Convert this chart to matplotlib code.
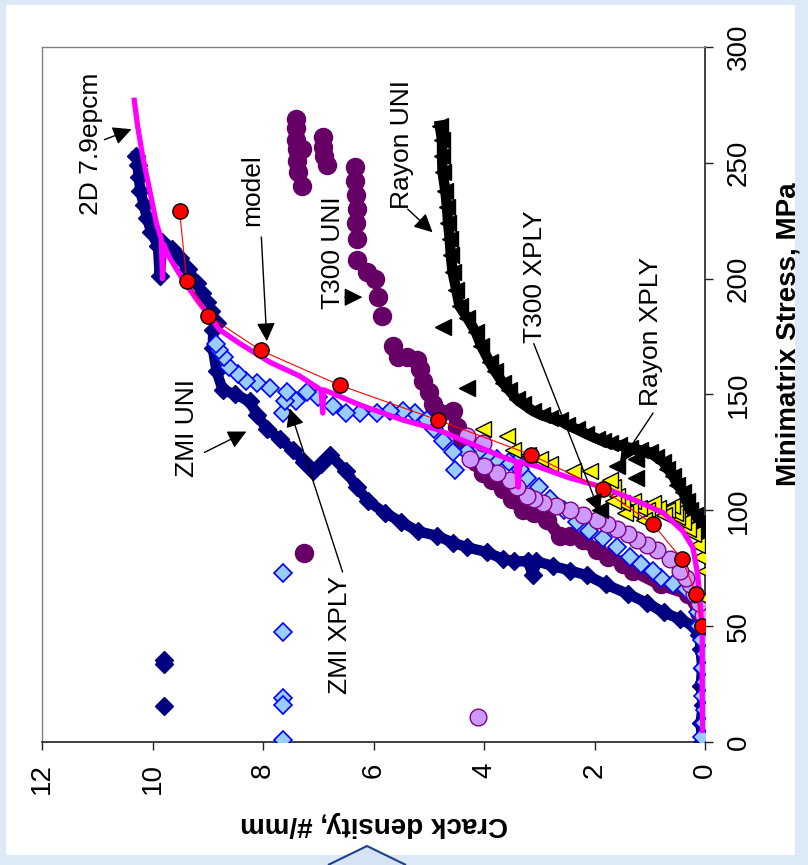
import numpy as np
import matplotlib
matplotlib.use("Agg")
import matplotlib.pyplot as plt
from matplotlib.patches import Rectangle, Polygon

plt.rcParams['font.family'] = ['Liberation Sans', 'DejaVu Sans']

# data as (crack density #/mm, stress MPa)
zmi_uni = [(0.05, 0), (0.08, 8), (0.04, 16), (0.08, 24), (0.05, 32), (0.08, 40), (0.1, 46),
           (0.2, 50), (0.45, 53), (0.75, 56), (1.05, 60), (1.4, 64), (1.8, 68), (2.14, 72),
           (2.45, 74), (2.75, 76), (3.05, 78), (3.12, 72), (3.2, 78), (3.45, 78), (3.66, 79),
           (3.95, 82), (4.3, 84), (4.56, 86), (4.85, 89), (5.2, 91), (5.5, 95), (5.8, 99),
           (6.1, 104), (6.3, 110), (6.5, 117), (6.79, 124), (6.95, 120), (7.1, 117), (7.25, 121),
           (7.46, 126), (7.7, 131), (7.93, 135), (8.1, 141), (8.24, 147), (8.5, 150), (8.73, 152),
           (8.84, 160), (8.91, 170), (8.9, 178), (8.84, 181), (8.95, 186), (9.02, 190), (9.1, 194),
           (9.2, 198), (9.35, 204), (9.51, 209), (9.65, 213), (9.82, 216), (9.87, 201), (9.9, 214),
           (10.02, 220), (10.1, 226), (10.16, 232), (10.22, 238), (10.25, 244), (10.27, 249),
           (10.29, 253)]
zmi_uni_stray = [(9.8, 35.5), (9.8, 33.5), (9.8, 15.5)]

zmi_xply = [(0.05, 2), (0.02, 8), (0.0, 14), (0.03, 20), (0.0, 26), (0.03, 32), (0.0, 38),
            (0.05, 44), (0.1, 50), (0.12, 56), (0.18, 62), (0.35, 66), (0.58, 68), (0.8, 71),
            (0.94, 74), (1.15, 77), (1.36, 80), (1.6, 84), (1.85, 88), (2.1, 91), (2.32, 95),
            (2.55, 100), (2.81, 105), (3.0, 110), (3.22, 114), (3.35, 118), (3.4, 121), (3.55, 121),
            (3.77, 122), (3.95, 124), (4.08, 126), (4.3, 125), (4.57, 125), (4.75, 130), (4.9, 135),
            (5.04, 139), (5.25, 142), (5.47, 143), (5.7, 143), (5.94, 142), (6.25, 142), (6.49, 142),
            (6.74, 145), (7.0, 149), (7.21, 151), (7.4, 147), (7.64, 142), (7.6, 147), (7.57, 151),
            (7.88, 153), (8.1, 155), (8.3, 156), (8.45, 159), (8.61, 162), (8.7, 166), (8.79, 169),
            (8.85, 172)]
zmi_xply_stray = [(4.53, 117.5), (7.64, 73), (7.64, 47.5), (7.64, 19), (7.64, 16), (7.64, 1)]

t300_uni = [(0.05, 50), (0.1, 56), (0.3, 64), (0.8, 68), (1.3, 74), (1.49, 77), (1.75, 80),
            (1.96, 83), (2.2, 87), (2.45, 89), (2.63, 89), (2.86, 96), (3.1, 99), (3.3, 100),
            (3.5, 105), (3.66, 109), (3.85, 113), (4.02, 116), (4.15, 121), (4.26, 126), (4.4, 131),
            (4.49, 136), (4.57, 143), (4.8, 142), (4.93, 146), (5.0, 151), (5.1, 156), (5.15, 161),
            (5.22, 165), (5.4, 166), (5.56, 166), (5.65, 171)]
t300_uni_upper = [(5.85, 184), (5.92, 192), (5.98, 200), (6.12, 203), (6.29, 208), (6.3, 217),
                  (6.32, 224), (6.3, 230), (6.32, 236), (6.34, 242), (6.34, 248), (7.41, 269),
                  (7.41, 265), (7.4, 260), (7.38, 256), (7.38, 251), (7.3, 256), (7.36, 246),
                  (7.3, 240), (6.92, 261), (6.92, 257), (6.9, 253), (6.85, 249), (7.25, 81.6)]

t300_xply = [(0.04, 50), (0.04, 55), (0.1, 60), (0.2, 64), (0.27, 68), (0.35, 71), (0.45, 74),
             (0.63, 79), (0.87, 83), (1.05, 85), (1.23, 87), (1.4, 90), (1.59, 92), (1.78, 94),
             (1.96, 96), (2.2, 98), (2.45, 100), (2.7, 102), (2.93, 103), (3.1, 105), (3.22, 106),
             (3.4, 110), (3.53, 113), (3.77, 116), (4.0, 119), (4.26, 122), (4.02, 129), (4.31, 132),
             (4.11, 10.8)]

rayon_uni = [(0.0, 86), (0.05, 90), (0.09, 95), (0.18, 98), (0.27, 100), (0.33, 104), (0.4, 108),
             (0.5, 111), (0.58, 115), (0.68, 118), (0.76, 121), (0.88, 123), (1.0, 125), (1.18, 126),
             (1.36, 127), (1.55, 128), (1.72, 129), (1.85, 130), (1.96, 131), (2.15, 133), (2.32, 135),
             (2.5, 137), (2.63, 139), (2.8, 140), (2.95, 141), (3.12, 143), (3.3, 146), (3.41, 148),
             (3.55, 152), (3.66, 155), (3.8, 160), (3.9, 164), (4.05, 171), (4.15, 177), (4.3, 183),
             (4.44, 188), (4.5, 195), (4.57, 203), (4.6, 210), (4.62, 217), (4.65, 224), (4.67, 231),
             (4.7, 238), (4.75, 246), (4.76, 253), (4.76, 260), (4.8, 266)]
rayon_uni_stray = [(1.9, 100), (1.25, 114), (1.25, 122), (1.6, 119), (4.31, 153), (4.75, 179)]

rayon_xply = [(0.0, 62), (0.0, 74), (0.09, 80), (0.15, 85), (0.22, 90), (0.3, 92), (0.4, 95),
              (0.5, 97), (0.55, 99), (0.6, 102), (0.69, 100), (0.75, 98), (0.85, 101), (0.95, 103),
              (1.05, 100), (1.1, 96), (1.2, 101), (1.3, 104), (1.36, 100), (1.45, 99), (1.5, 103),
              (1.6, 106), (1.67, 104), (1.67, 110), (1.72, 113), (2.08, 117), (2.39, 117), (2.81, 120),
              (2.99, 122), (3.2, 124), (3.48, 126), (3.59, 132), (4.02, 135)]

epcm_2d = [(0.04, 5), (0.05, 20), (0.05, 35), (0.05, 48), (0.09, 60), (0.13, 72), (0.22, 84),
           (0.4, 91), (0.76, 99), (1.23, 104), (1.85, 110), (2.45, 114), (3.04, 119), (3.35, 121),
           (3.38, 110), (3.42, 121), (3.66, 123), (4.26, 129), (4.86, 135), (5.47, 139), (6.07, 144),
           (6.3, 146), (6.79, 151), (6.9, 152), (6.92, 142), (6.95, 152), (7.34, 158), (7.88, 164),
           (8.42, 172), (8.79, 178), (8.91, 182), (9.2, 191), (9.46, 200), (9.69, 209), (9.8, 215),
           (9.82, 200), (9.84, 217), (9.93, 224), (10.05, 238), (10.18, 253), (10.27, 266),
           (10.33, 277)]

model = [(0.05, 50), (0.16, 64), (0.42, 79), (0.94, 94), (1.85, 109), (3.15, 124), (4.84, 139),
         (6.61, 154), (8.04, 169), (8.99, 184), (9.38, 199), (9.51, 229)]

crack_ticks = [0, 2, 4, 6, 8, 10, 12]
stress_ticks = [0, 50, 100, 150, 200, 250, 300]


def xy(pairs):
    a = np.array(pairs, dtype=float)
    return a[:, 0], a[:, 1]


W, H = 808, 865
fig = plt.figure(figsize=(W / 100, H / 100), dpi=100)
fig.patch.set_facecolor('#DCE9F6')
fig.patches.append(Rectangle((6 / W, 1 - 855 / H), 789 / W, 850 / H, transform=fig.transFigure,
                             facecolor='white', edgecolor='none', zorder=-5))
fig.patches.append(Polygon([(328 / W, 0), (367 / W, 1 - 846 / H), (406 / W, 0)], closed=False,
                           transform=fig.transFigure, facecolor='#D5E4F3', edgecolor='#1F3F8F',
                           lw=1.5, zorder=-4))

ax = fig.add_axes([42 / W, 1 - 742 / H, 663 / W, 695 / H])
ax.set_zorder(2)
ax.set_facecolor('none')

c, s = xy(zmi_uni)
ax.plot(c, s, color='#000080', lw=7.5, marker='D', ms=9, mfc='#000080', mec='#000080', zorder=2)
c, s = xy(zmi_uni_stray)
ax.plot(c, s, ls='none', marker='D', ms=9, mfc='#000080', mec='#000080', zorder=2)

c, s = xy(t300_uni)
ax.plot(c, s, color='#660066', lw=9, marker='o', ms=13, mfc='#660066', mec='#660066', zorder=3)
c, s = xy(t300_uni_upper)
ax.plot(c, s, ls='none', marker='o', ms=13, mfc='#660066', mec='#660066', zorder=3)

c, s = xy(zmi_xply + zmi_xply_stray)
ax.plot(c, s, ls='none', marker='D', ms=9, mfc='#99CCFF', mec='#0000FF', mew=1.2, zorder=4)

c, s = xy(t300_xply)
ax.plot(c, s, ls='none', marker='o', ms=12, mfc='#CC99FF', mec='#800080', mew=1, zorder=4)

c, s = xy(rayon_uni)
ax.plot(c, s, color='black', lw=7.5, marker='<', ms=11, mfc='black', mec='black', zorder=5)
c, s = xy(rayon_uni_stray)
ax.plot(c, s, ls='none', marker='<', ms=11, mfc='black', mec='black', zorder=5)

c, s = xy(rayon_xply)
ax.plot(c, s, ls='none', marker='<', ms=11, mfc='#FFFF00', mec='black', mew=1, zorder=5)

c, s = xy(epcm_2d)
ax.plot(c, s, color='#FF00FF', lw=3.8, zorder=6)

c, s = xy(model)
ax.plot(c, s, color='#FF0000', lw=0.8, marker='o', ms=11, mfc='#FF0000', mec='black', mew=1,
        zorder=7)

ax.set_xlim(12, 0)
ax.set_ylim(0, 300)
ax.set_xticks(crack_ticks)
ax.set_yticks(stress_ticks)
ax.yaxis.tick_right()
ax.tick_params(axis='both', direction='out', length=6, width=1, colors='#202020',
               labelcolor='black', labelsize=20, pad=9)
for lab in ax.get_xticklabels() + ax.get_yticklabels():
    lab.set_rotation(90)
for lab in ax.get_yticklabels():
    lab.set_va('center')
for side in ('left', 'top'):
    ax.spines[side].set_color('#808080')
    ax.spines[side].set_linewidth(1)
for side in ('bottom', 'right'):
    ax.spines[side].set_color('#202020')
    ax.spines[side].set_linewidth(1.2)

fig.text(374 / W, 1 - 824 / H, 'Crack density, #/mm', rotation=180, ha='center', va='center',
         fontsize=20, fontweight='bold')
fig.text(789 / W, 1 - 334 / H, 'Minimatrix Stress, MPa', rotation=90, ha='center', va='center',
         fontsize=20, fontweight='bold')

arrow = dict(arrowstyle='-|>,head_length=0.4,head_width=0.2', color='black', lw=1,
             mutation_scale=28, shrinkA=0, shrinkB=0)
notes = [
    ('2D 7.9epcm', (11.12, 258), (10.87, 260), (10.38, 264.5)),
    ('model', (8.19, 238.4), (8.03, 218), (7.93, 173)),
    ('T300 UNI', (6.74, 211.2), (6.52, 192), (6.2, 192)),
    ('Rayon UNI', (5.49, 258), (5.38, 230), (4.93, 220)),
    ('T300 XPLY', (3.08, 201), (3.1, 172), (1.9, 99)),
    ('Rayon XPLY', (0.97, 177), (0.94, 142), (1.54, 120.5)),
    ('ZMI UNI', (9.38, 135.6), (9.06, 125), (8.3, 134)),
    ('ZMI XPLY', (6.61, 46.2), (6.56, 73.4), (7.52, 144)),
]
for label, tpos, tail, tip in notes:
    ax.text(tpos[0], tpos[1], label, rotation=90, ha='center', va='center', fontsize=19, zorder=8)
    ax.annotate('', xy=tip, xytext=tail, arrowprops=arrow, zorder=8)

fig.savefig('out.png', dpi=100, facecolor=fig.get_facecolor())
